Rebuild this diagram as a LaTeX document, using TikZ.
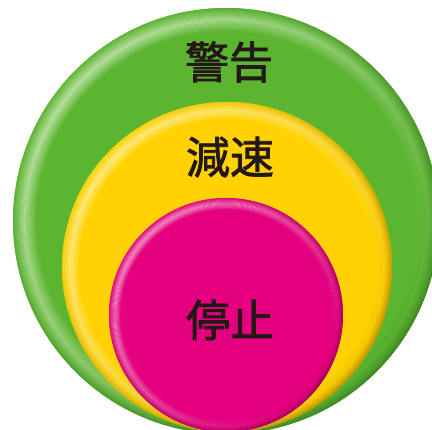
\documentclass[tikz,border=0pt]{standalone}
\usepackage{fontspec}
\newfontfamily\jpfont[FakeBold=1.8]{Noto Sans CJK JP}
\definecolor{gbase}{HTML}{5CB531}
\definecolor{glight}{HTML}{C2E5AC}
\definecolor{gdark}{HTML}{3A8222}
\definecolor{ybase}{HTML}{FFD200}
\definecolor{ylight}{HTML}{FFEC90}
\definecolor{ydark}{HTML}{B88A00}
\definecolor{mbase}{HTML}{E4007F}
\definecolor{mlight}{HTML}{F4A0CC}
\definecolor{mdark}{HTML}{980055}
\definecolor{txt}{HTML}{231815}
\newcommand\bevelball[7]{%
  \fill[#5] (#1,#2) circle (#3);
  \foreach \k in {0,...,15}{
    \pgfmathsetmacro\ra{#3-\k*1.5*#7}
    \pgfmathsetmacro\rb{#3-(\k+1)*1.5*#7}
    \pgfmathsetmacro\ol{0.9*max(0,1-abs(\k-6)/6.5)}
    \pgfmathsetmacro\od{0.9*max(0,1-\k/10)}
    \shade[even odd rule, opacity=\od, top color=#5, middle color=#5, bottom color=#6, shading angle=50] (#1,#2) circle (\ra) (#1,#2) circle (\rb);
    \shade[even odd rule, opacity=\ol, top color=#4, middle color=#5, bottom color=#5, shading angle=50] (#1,#2) circle (\ra) (#1,#2) circle (\rb);
  }%
}
\tikzset{lbl/.style={text=txt, font=\jpfont\fontsize{44}{44}\selectfont, inner sep=0pt}}
\begin{document}
\begin{tikzpicture}[x=1pt,y=1pt]
\useasboundingbox (0,0) rectangle (432,430);
\clip (0,0) rectangle (432,430);
\bevelball{226}{209}{213}{glight}{gbase}{gdark}{1.2}
\bevelball{227}{163}{165}{ylight}{ybase}{ydark}{0.9}
\bevelball{226}{115}{117}{mlight}{mbase}{mdark}{0.6}
\node[lbl] (warn) at (229,368) {警告};
\node[lbl] (slow) at (230,273) {減速};
\node[lbl] (stop) at (230,110) {停止};
\end{tikzpicture}
\end{document}
